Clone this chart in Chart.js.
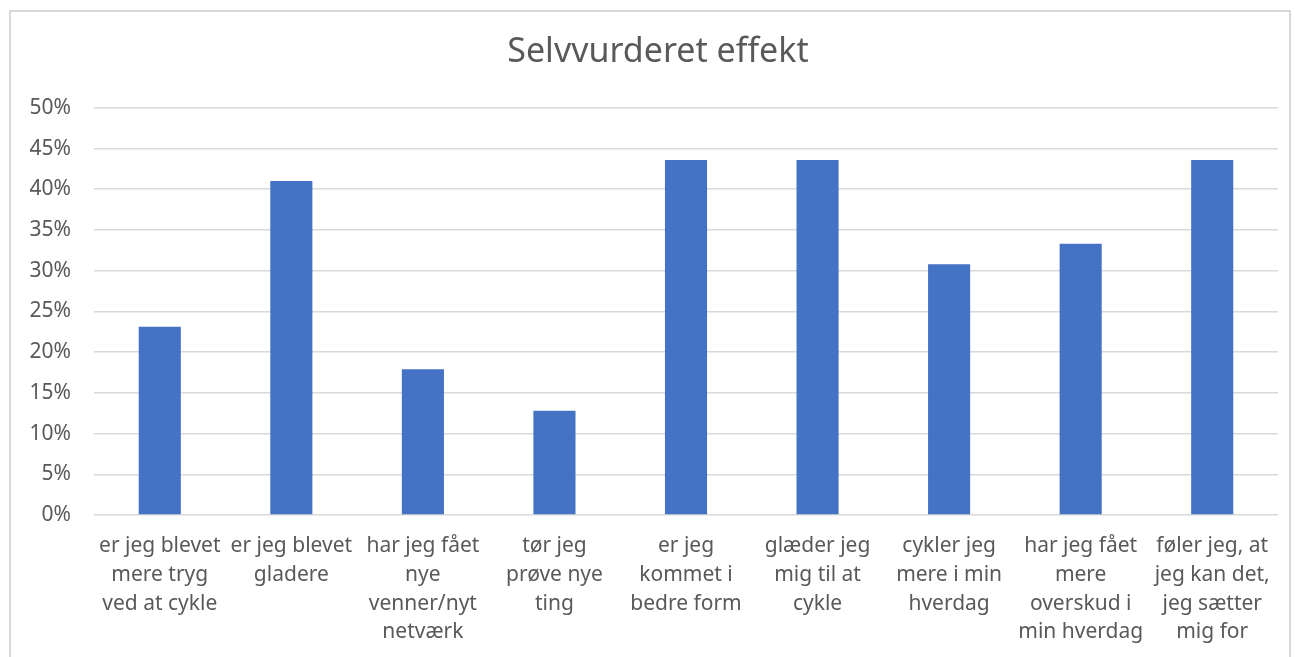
<!DOCTYPE html>
<html>
<head>
<meta charset="utf-8">
<script src="https://cdn.jsdelivr.net/npm/chart.js@4"></script>
<style>
  html, body { margin: 0; padding: 0; background: #fff; overflow: hidden; }
  #wrap { position: relative; width: 1295px; height: 657px; }
  #frame { position: absolute; left: 9px; top: 10px; width: 1282px; height: 700px; border: 2px solid #d9d9d9; box-sizing: border-box; }
  canvas { position: absolute; left: 0; top: 0; }
</style>
</head>
<body>
<div id="wrap">
  <div id="frame"></div>
  <canvas id="chart" width="1295" height="657"></canvas>
</div>
<script>
// kategorier (flere linjer pr. etiket)
const categories = [
  ['er jeg blevet', 'mere tryg', 'ved at cykle'],
  ['er jeg blevet', 'gladere'],
  ['har jeg fået', 'nye', 'venner/nyt', 'netværk'],
  ['tør jeg', 'prøve nye', 'ting'],
  ['er jeg', 'kommet i', 'bedre form'],
  ['glæder jeg', 'mig til at', 'cykle'],
  ['cykler jeg', 'mere i min', 'hverdag'],
  ['har jeg fået', 'mere', 'overskud i', 'min hverdag'],
  ['føler jeg, at', 'jeg kan det,', 'jeg sætter', 'mig for']
];
// andel i procent
const values = [23.1, 41.0, 17.9, 12.8, 43.6, 43.6, 30.8, 33.3, 43.6];
const titleText = 'Selvvurderet effekt';

const textColor = '#595959';
const fontFam = '"Noto Sans", "Open Sans", sans-serif';

// titlen sidder lidt til højre for midten i originalen
const shiftTitle = {
  id: 'shiftTitle',
  afterLayout(chart) {
    if (chart.titleBlock) chart.titleBlock.left += 18;
  }
};

new Chart(document.getElementById('chart').getContext('2d'), {
  type: 'bar',
  data: {
    labels: categories,
    datasets: [{
      data: values,
      backgroundColor: '#4472C4',
      borderWidth: 0,
      barPercentage: 0.32,
      categoryPercentage: 1
    }]
  },
  plugins: [shiftTitle],
  options: {
    responsive: false,
    animation: false,
    layout: { padding: { left: 20, right: 17, top: 10, bottom: 0 } },
    plugins: {
      legend: { display: false },
      tooltip: { enabled: false },
      title: {
        display: true,
        text: titleText,
        color: textColor,
        font: { family: fontFam, size: 34, weight: 'normal', lineHeight: 1.2 },
        padding: { top: 22, bottom: 35 }
      }
    },
    scales: {
      x: {
        grid: { display: false, drawTicks: false },
        border: { display: false },
        ticks: {
          color: textColor,
          font: { family: fontFam, size: 21, lineHeight: 1.367 },
          padding: 17,
          maxRotation: 0,
          autoSkip: false
        },
        afterFit: s => { s.height = 142; }
      },
      y: {
        min: 0,
        max: 50,
        grid: { color: '#d9d9d9', lineWidth: 1.5, drawTicks: false },
        border: { display: false },
        ticks: {
          stepSize: 5,
          color: textColor,
          font: { family: fontFam, size: 21 },
          padding: 23,
          callback: v => v + '%'
        },
        afterFit: s => { s.width = 74; }
      }
    }
  }
});
</script>
</body>
</html>
